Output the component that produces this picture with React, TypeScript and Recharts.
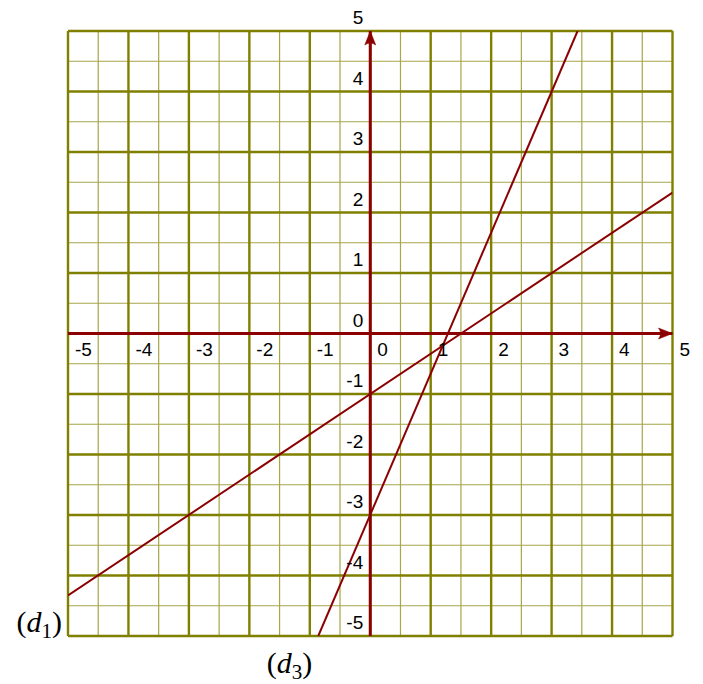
import React from "react";
import { LineChart, Line, XAxis, YAxis, CartesianGrid, ReferenceLine, ReferenceDot } from "recharts";

const xTicks = [-5, -4, -3, -2, -1, 0, 1, 2, 3, 4, 5];
const yTicks = [-5, -4, -3, -2, -1, 0, 1, 2, 3, 4, 5];
const majorGrid = [-5, -4, -3, -2, -1, 0, 1, 2, 3, 4, 5];
const minorGrid = [-4.5, -3.5, -2.5, -1.5, -0.5, 0.5, 1.5, 2.5, 3.5, 4.5];
const d1Points = [
  { x: -5, y: -4.33 },
  { x: 5, y: 2.33 },
];
const d3Points = [
  { x: -0.86, y: -5 },
  { x: 3.43, y: 5 },
];
const lineLabels = [
  { name: "d", sub: "1", x: -5, y: -5 },
  { name: "d", sub: "3", x: -0.86, y: -5 },
];

const AXIS_RED = "#8b0000";
const OLIVE = "#808000";
const MINOR = "#a6a64a";
const SANS = "'Liberation Sans', Arial, Helvetica, sans-serif";
const SERIF = "'Liberation Serif', 'Times New Roman', serif";

const XArrow = (p: any) => {
  const { cx, cy } = p;
  return (
    <path
      d={`M${cx},${cy} L${cx - 14},${cy - 5.5} Q${cx - 10},${cy} ${cx - 14},${cy + 5.5} Z`}
      fill={AXIS_RED}
      stroke={AXIS_RED}
      strokeWidth={0.5}
    />
  );
};

const YArrow = (p: any) => {
  const { cx, cy } = p;
  return (
    <path
      d={`M${cx},${cy} L${cx - 5.5},${cy + 14} Q${cx},${cy + 10} ${cx + 5.5},${cy + 14} Z`}
      fill={AXIS_RED}
      stroke={AXIS_RED}
      strokeWidth={0.5}
    />
  );
};

const sansStyle: React.CSSProperties = { fontFamily: SANS, fontSize: "19px", fill: "#000" };
const serifStyle: React.CSSProperties = { fontFamily: SERIF, fontSize: "30px", fill: "#000" };

const makeXLabel = (v: number) => (p: any) => (
  <text x={p.cx + 7} y={p.cy + 22} style={sansStyle} textAnchor="start">
    {String(v)}
  </text>
);

const makeYLabel = (v: number) => (p: any) => (
  <text x={p.cx - 7} y={p.cy - 7} style={sansStyle} textAnchor="end">
    {String(v)}
  </text>
);

const makeLineLabel = (name: string, sub: string, idx: number) => (p: any) => {
  const x = idx === 0 ? p.cx - 6 : p.cx - 6;
  const y = idx === 0 ? p.cy - 4 : p.cy + 37;
  return (
    <text x={x} y={y} style={serifStyle} textAnchor="end">
      <tspan>(</tspan>
      <tspan style={{ fontStyle: "italic" }}>{name}</tspan>
      <tspan style={{ fontSize: "21px" }} dy={6}>{sub}</tspan>
      <tspan dy={-6}>)</tspan>
    </text>
  );
};

export default function App() {
  return (
    <div style={{ position: "absolute", left: 0, top: 0, width: 703, height: 684, background: "#fff" }}>
      <LineChart width={703} height={684} margin={{ top: 31, right: 30.5, bottom: 48, left: 68 }}>
        <XAxis type="number" dataKey="x" domain={[-5, 5]} ticks={xTicks} hide allowDataOverflow />
        <YAxis type="number" dataKey="y" domain={[-5, 5]} ticks={yTicks} hide allowDataOverflow />
        <CartesianGrid
          horizontalValues={minorGrid}
          verticalValues={minorGrid}
          stroke={MINOR}
          strokeWidth={1.2}
          strokeDasharray=""
        />
        <CartesianGrid
          horizontalValues={majorGrid}
          verticalValues={majorGrid}
          stroke={OLIVE}
          strokeWidth={2.4}
          strokeDasharray=""
        />
        <ReferenceLine y={0} stroke={AXIS_RED} strokeWidth={3} />
        <ReferenceLine x={0} stroke={AXIS_RED} strokeWidth={3} />
        <ReferenceDot x={5} y={0} r={0} shape={XArrow} />
        <ReferenceDot x={0} y={5} r={0} shape={YArrow} />
        <Line data={d1Points} dataKey="y" type="linear" stroke={AXIS_RED} strokeWidth={2} dot={false} isAnimationActive={false} />
        <Line data={d3Points} dataKey="y" type="linear" stroke={AXIS_RED} strokeWidth={2} dot={false} isAnimationActive={false} />
        {xTicks.map((v) => (
          <ReferenceDot key={"xl" + v} x={v} y={0} r={0} shape={makeXLabel(v)} />
        ))}
        {yTicks.map((v) => (
          <ReferenceDot key={"yl" + v} x={0} y={v} r={0} shape={makeYLabel(v)} />
        ))}
        {lineLabels.map((l, i) => (
          <ReferenceDot key={"ll" + i} x={l.x} y={l.y} r={0} shape={makeLineLabel(l.name, l.sub, i)} />
        ))}
      </LineChart>
    </div>
  );
}
